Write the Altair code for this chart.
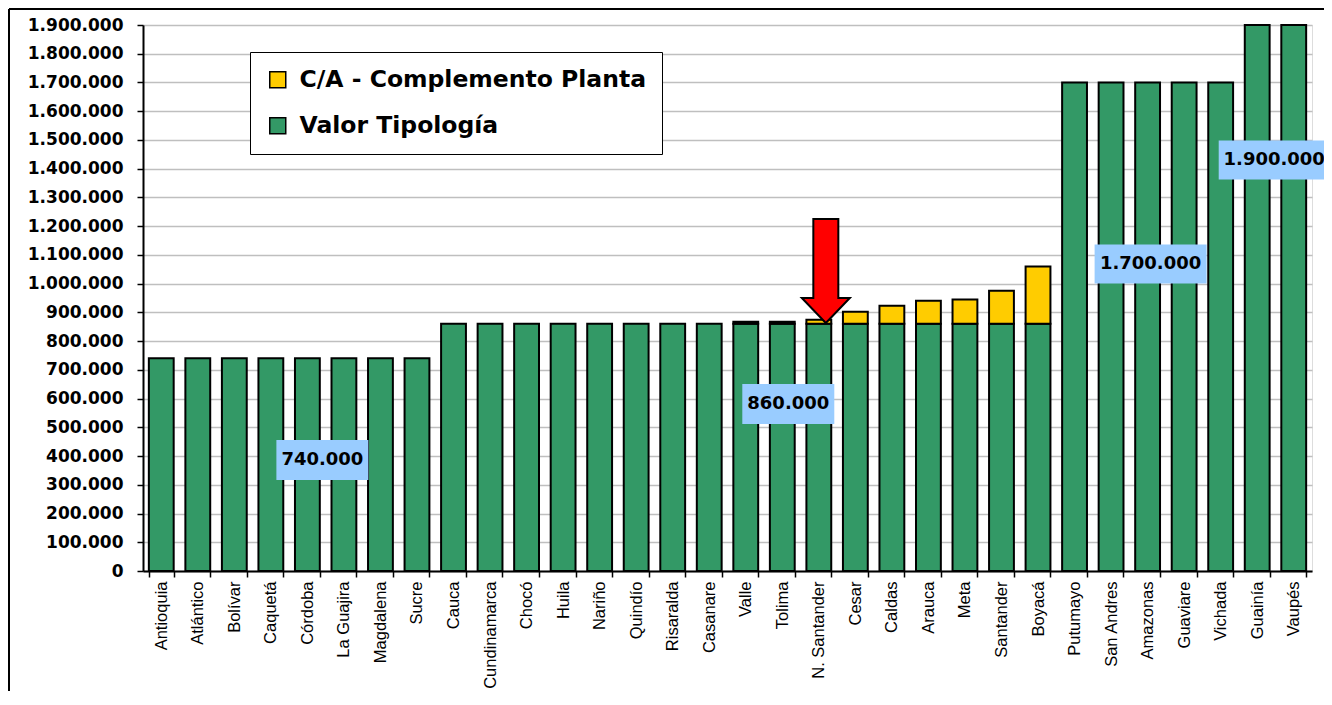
import altair as alt
import pandas as pd

departamentos = ["Antioquia", "Atlántico", "Bolívar", "Caquetá", "Córdoba", "La Guajira",
                 "Magdalena", "Sucre", "Cauca", "Cundinamarca", "Chocó", "Huila", "Nariño",
                 "Quindío", "Risaralda", "Casanare", "Valle", "Tolima", "N. Santander", "Cesar",
                 "Caldas", "Arauca", "Meta", "Santander", "Boyacá", "Putumayo", "San Andres",
                 "Amazonas", "Guaviare", "Vichada", "Guainía", "Vaupés"]
valor_tipologia = [740000, 740000, 740000, 740000, 740000, 740000, 740000, 740000,
                   860000, 860000, 860000, 860000, 860000, 860000, 860000, 860000,
                   860000, 860000, 860000, 860000, 860000, 860000, 860000, 860000, 860000,
                   1700000, 1700000, 1700000, 1700000, 1700000, 1900000, 1900000]
complemento_planta = [0, 0, 0, 0, 0, 0, 0, 0,
                      0, 0, 0, 0, 0, 0, 0, 0,
                      7000, 7000, 14000, 42000, 63000, 80000, 85000, 115000, 200000,
                      0, 0, 0, 0, 0, 0, 0]
series_names = ["C/A - Complemento Planta", "Valor Tipología"]
series_colors = ["#FFCC00", "#339966"]
y_ticks = [0, 100000, 200000, 300000, 400000, 500000, 600000, 700000, 800000, 900000,
           1000000, 1100000, 1200000, 1300000, 1400000, 1500000, 1600000, 1700000,
           1800000, 1900000]

# annotation boxes
label_text = ["740.000", "860.000", "1.700.000", "1.900.000"]
label_dept = ["Córdoba", "Tolima", "Amazonas", "Guainía"]
label_value = [386000, 581000, 1068000, 1430000]
label_dx = [15, 6, 3, 17]
label_w = [92, 92, 112, 111]
label_h = [40, 40, 39, 39]

arrow_dept = "N. Santander"
arrow_value = 863000

rows = []
for d, v, c in zip(departamentos, valor_tipologia, complemento_planta):
    rows.append({"dep": d, "valor": v, "serie": series_names[1], "orden": 0})
    if c > 0:
        rows.append({"dep": d, "valor": c, "serie": series_names[0], "orden": 1})
df = pd.DataFrame(rows)

x_enc = alt.X("dep:N", sort=departamentos,
              scale=alt.Scale(paddingInner=0.32, paddingOuter=0.16),
              axis=alt.Axis(title=None, labelAngle=270, labelFont="Liberation Sans",
                            labelFontSize=16.5, labelColor="black", labelPadding=4,
                            tickBand="extent", tickSize=6, tickColor="black", tickWidth=1.5,
                            domainColor="black", domainWidth=2, grid=False))
y_enc = alt.Y("valor:Q",
              scale=alt.Scale(domain=[0, 1900000], nice=False),
              axis=alt.Axis(title=None, values=y_ticks,
                            labelExpr="replace(replace(format(datum.value, ','), ',', '.'), ',', '.')",
                            labelFont="DejaVu Sans", labelFontWeight="bold", labelFontSize=17,
                            labelColor="black", labelPadding=14, tickSize=6, tickColor="black",
                            tickWidth=1.5, domainColor="black", domainWidth=2,
                            grid=True, gridColor="#BFBFBF", gridWidth=1.5))

bars = alt.Chart(df).mark_bar(stroke="black", strokeWidth=2).encode(
    x=x_enc,
    y=y_enc,
    color=alt.Color("serie:N", scale=alt.Scale(domain=series_names, range=series_colors),
                    legend=alt.Legend(title=None, orient="none", legendX=107, legendY=27,
                                      labelFont="DejaVu Sans", labelFontWeight="bold",
                                      labelFontSize=23.5, labelColor="black", labelLimit=600,
                                      labelOffset=10, symbolType="square", symbolSize=256,
                                      symbolStrokeColor="black", symbolStrokeWidth=1.5,
                                      symbolOpacity=1, fillColor="white", strokeColor="black",
                                      padding=16, rowPadding=21)),
    order=alt.Order("orden:Q"),
)

layers = [bars]
for t, d, v, dx, w, h in zip(label_text, label_dept, label_value, label_dx, label_w, label_h):
    u = 50.0
    x0 = (dx - w / 2) / u
    x1 = (dx + w / 2) / u
    y0 = -(h / 2) / u
    y1 = (h / 2) / u
    path = f"M{x0:.3f},{y0:.3f}L{x1:.3f},{y0:.3f}L{x1:.3f},{y1:.3f}L{x0:.3f},{y1:.3f}Z"
    ann = pd.DataFrame({"dep": [d], "valor": [v], "texto": [t]})
    base = alt.Chart(ann)
    layers.append(base.mark_point(shape=path, size=10000, filled=True, fill="#99CCFF",
                                  opacity=1, strokeWidth=0).encode(x=x_enc, y=y_enc))
    layers.append(base.mark_text(dx=dx, font="DejaVu Sans", fontWeight="bold", fontSize=18,
                                 color="black", baseline="middle", align="center")
                  .encode(x=x_enc, y=y_enc, text="texto:N"))

arrow_path = ("M0.14,0L-0.34,-0.5L-0.11,-0.5L-0.11,-2.08L0.39,-2.08L0.39,-0.5L0.62,-0.5Z")
arrow_df = pd.DataFrame({"dep": [arrow_dept], "valor": [arrow_value]})
layers.append(alt.Chart(arrow_df).mark_point(shape=arrow_path, size=10000, filled=True,
                                              fill="#FF0000", stroke="black", strokeWidth=2,
                                              opacity=1).encode(x=x_enc, y=y_enc))

frame_df = pd.DataFrame({"a": [0]})
layers.append(alt.Chart(frame_df).mark_rule(color="black", strokeWidth=2).encode(
    x=alt.value(-134), y=alt.value(-16), y2=alt.value(700)))
layers.append(alt.Chart(frame_df).mark_rule(color="black", strokeWidth=2).encode(
    x=alt.value(-134), x2=alt.value(1200), y=alt.value(-16)))

chart = alt.layer(*layers).properties(
    width=1169, height=546,
    padding={"left": 135, "top": 17, "right": 12, "bottom": 120},
    autosize=alt.AutoSizeParams(type="none"),
).configure_view(stroke="#808080", strokeWidth=2).configure(background="white")

chart.save("out.html", embed_options={"renderer": "svg", "actions": False})
